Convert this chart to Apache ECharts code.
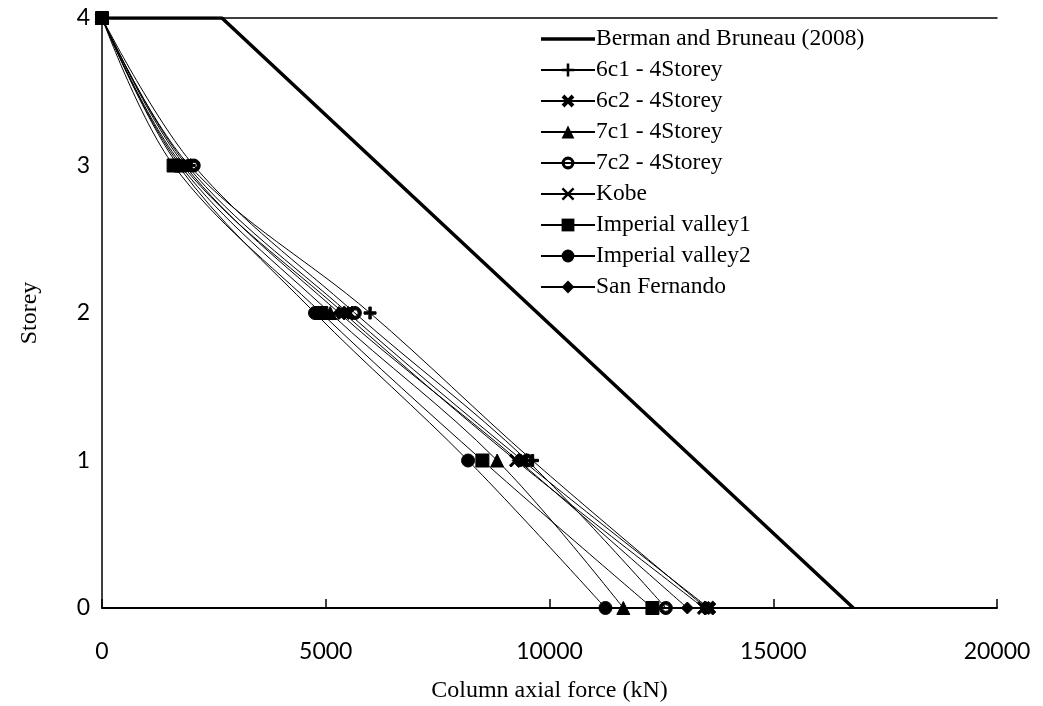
<!DOCTYPE html>
<html>
<head>
<meta charset="utf-8">
<script src="https://cdn.jsdelivr.net/npm/echarts@6/dist/echarts.min.js"></script>
<style>
  html, body { margin: 0; padding: 0; background: #fff; }
  #chart { width: 1043px; height: 706px; }
</style>
</head>
<body>
<div id="chart"></div>
<script>
// Storey levels (y values) and column axial force per record (kN)
const storeys = [4, 3, 2, 1, 0];
const xTicks = [0, 5000, 10000, 15000, 20000];

const berman = [[0, 4], [2680, 4], [16790, 0]];
const f6c1 = [0, 1950, 5990, 9620, 13500];
const f6c2 = [0, 1900, 5500, 9400, 13560];
const f7c1 = [0, 1750, 5100, 8830, 11650];
const f7c2 = [0, 2050, 5650, 9500, 12600];
const kobe = [0, 1800, 5400, 9250, 13450];
const imperial1 = [0, 1600, 4900, 8500, 12300];
const imperial2 = [0, 1700, 4760, 8180, 11250];
const sanFernando = [0, 1850, 5300, 9300, 13080];

const serif = '"Liberation Serif", "DejaVu Serif", serif';
const sans = 'Lato, "Open Sans", sans-serif';

const SYM = {
  plus: 'path://M4,0 H6 V4 H10 V6 H6 V10 H4 V6 H0 V4 H4 Z',
  boldX: 'path://M0,2.2 L2.2,0 L5,2.8 L7.8,0 L10,2.2 L7.2,5 L10,7.8 L7.8,10 L5,7.2 L2.2,10 L0,7.8 L2.8,5 Z',
  thinX: 'path://M0,1.3 L1.3,0 L5,3.7 L8.7,0 L10,1.3 L6.3,5 L10,8.7 L8.7,10 L5,6.3 L1.3,10 L0,8.7 L3.7,5 Z',
  // thick ring: outer and inner circles wound in opposite directions
  ring: 'path://M5,0 A5,5 0 1 0 5,10 A5,5 0 1 0 5,0 Z M5,2.4 A2.6,2.6 0 1 1 5,7.6 A2.6,2.6 0 1 1 5,2.4 Z',
  // thick bar across the legend box; tiny corner specks pin the box size
  thickLine: 'path://M0,0 h0.01 v0.01 h-0.01 Z M53.99,15.99 h0.01 v0.01 h-0.01 Z M0,6.2 H54 V9.8 H0 Z'
};

function pairs(vals) { return vals.map((v, i) => [v, storeys[i]]); }

function rec(name, vals, symbol, size, extra) {
  return Object.assign({
    name: name,
    type: 'line',
    smooth: 0.35,
    data: pairs(vals),
    symbol: symbol,
    symbolSize: size,
    lineStyle: { color: '#000', width: 1 },
    itemStyle: { color: '#000', borderColor: '#000' },
    z: 3
  }, extra || {});
}

const chart = echarts.init(document.getElementById('chart'), null, { renderer: 'canvas' });

chart.setOption({
  animation: false,
  backgroundColor: '#fff',
  grid: { left: 102, right: 46, top: 18, bottom: 98, outerBoundsMode: 'none', containLabel: false },
  legend: {
    orient: 'vertical',
    left: 535,
    top: 22,
    itemWidth: 54,
    itemHeight: 16,
    itemGap: 7,
    textStyle: { fontFamily: serif, fontSize: 23.5, lineHeight: 24, color: '#000', padding: [0, 0, 0, -4] },
    data: [
      { name: 'Berman and Bruneau (2008)', icon: SYM.thickLine, itemStyle: { color: '#000' } },
      '6c1 - 4Storey', '6c2 - 4Storey', '7c1 - 4Storey',
      '7c2 - 4Storey', 'Kobe', 'Imperial valley1', 'Imperial valley2', 'San Fernando'
    ]
  },
  xAxis: [{
    type: 'value',
    min: 0, max: 20000, interval: 5000,
    name: 'Column axial force (kN)',
    nameLocation: 'middle',
    nameGap: 71,
    nameTextStyle: { fontFamily: serif, fontSize: 24, color: '#000' },
    axisLine: { show: true, lineStyle: { color: '#000', width: 2 } },
    axisTick: { show: true, inside: true, length: 9, lineStyle: { color: '#000', width: 1.5 } },
    axisLabel: { fontFamily: sans, fontSize: 23, color: '#000', margin: 32,
                 formatter: v => xTicks.includes(v) ? String(v) : '' },
    splitLine: { show: false }
  }, {
    type: 'value',
    position: 'top',
    min: 0, max: 20000,
    axisLine: { show: true, lineStyle: { color: '#000', width: 1.5 } },
    axisTick: { show: false },
    axisLabel: { show: false },
    splitLine: { show: false }
  }],
  yAxis: {
    type: 'value',
    min: 0, max: 4, interval: 1,
    name: 'Storey',
    nameLocation: 'middle',
    nameGap: 60,
    nameTextStyle: { fontFamily: serif, fontSize: 24, color: '#000' },
    axisLine: { show: true, lineStyle: { color: '#000', width: 1.5 } },
    axisTick: { show: false },
    axisLabel: { fontFamily: sans, fontSize: 23, color: '#000', margin: 12 },
    splitLine: { show: false }
  },
  series: [
    {
      name: 'Berman and Bruneau (2008)',
      type: 'line',
      data: berman,
      symbol: 'none',
      lineStyle: { color: '#000', width: 3.5 },
      itemStyle: { color: '#000' },
      z: 2
    },
    rec('6c1 - 4Storey', f6c1, SYM.plus, 12),
    rec('6c2 - 4Storey', f6c2, SYM.boldX, 14),
    rec('7c1 - 4Storey', f7c1, 'triangle', 13),
    rec('7c2 - 4Storey', f7c2, SYM.ring, 13),
    rec('Kobe', kobe, SYM.thinX, 13),
    rec('Imperial valley1', imperial1, 'rect', 13),
    rec('Imperial valley2', imperial2, 'circle', 13),
    rec('San Fernando', sanFernando, 'diamond', 12)
  ]
});
</script>
</body>
</html>
